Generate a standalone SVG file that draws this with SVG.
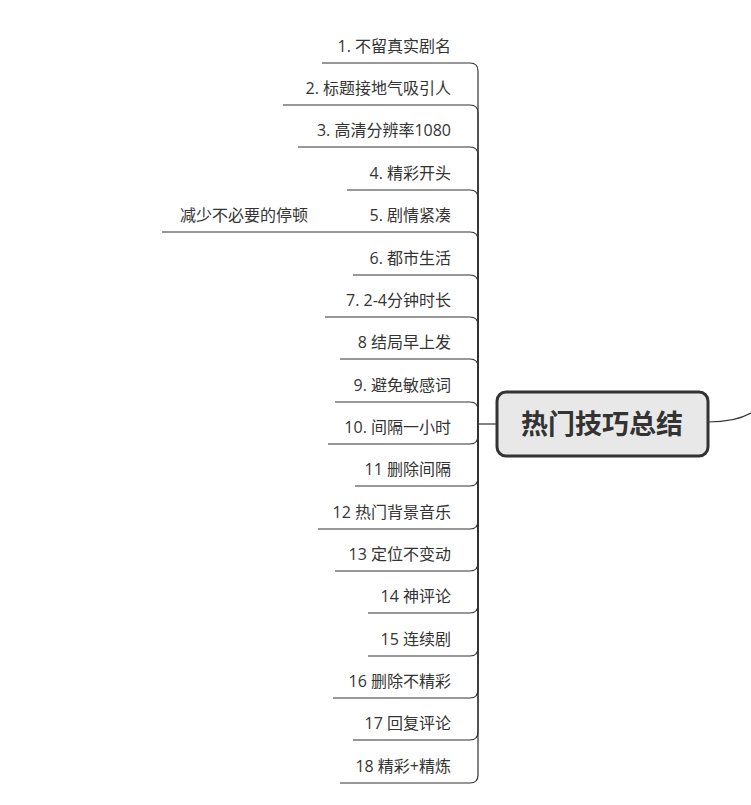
<svg xmlns="http://www.w3.org/2000/svg" width="751" height="805" viewBox="0 0 751 805">
<style>
.t{font-family:"Open Sans","Noto Sans CJK SC",sans-serif;font-size:16px;fill:#333;text-anchor:end}
.c path{fill:none;stroke:#333;stroke-width:1.2}
</style>
<rect width="751" height="805" fill="#fff"/>
<g class="c" id="connectors">
<path d="M478,424V71Q478,63 470,63H322"/>
<path d="M478,424V113Q478,105 470,105H283"/>
<path d="M478,424V155Q478,147 470,147H298"/>
<path d="M478,424V198Q478,190 470,190H347"/>
<path d="M478,424V240Q478,232 470,232H162"/>
<path d="M478,424V283Q478,275 470,275H353"/>
<path d="M478,424V325Q478,317 470,317H325"/>
<path d="M478,424V367Q478,359 470,359H340"/>
<path d="M478,424V410Q478,402 470,402H335"/>
<path d="M478,424V436Q478,444 470,444H328"/>
<path d="M478,424V478Q478,486 470,486H355"/>
<path d="M478,424V521Q478,529 470,529H318"/>
<path d="M478,424V563Q478,571 470,571H335"/>
<path d="M478,424V605Q478,613 470,613H368"/>
<path d="M478,424V648Q478,656 470,656H368"/>
<path d="M478,424V690Q478,698 470,698H333"/>
<path d="M478,424V732Q478,740 470,740H353"/>
<path d="M478,424V775Q478,783 470,783H340"/>
<path d="M478,424H497"/>
<path d="M708,422Q735,422 751,413" stroke-width="2"/>
</g>
<g id="center">
<rect x="497" y="392" width="211" height="64" rx="9" fill="#e8e8e8" stroke="#333" stroke-width="3"/>
<text x="602" y="434" text-anchor="middle" font-family="'Noto Sans CJK SC',sans-serif" font-size="27" font-weight="bold" fill="#333">热门技巧总结</text>
</g>
<g id="n1"><text class="t" x="451" y="52">1. 不留真实剧名</text></g>
<g id="n2"><text class="t" x="451" y="94">2. 标题接地气吸引人</text></g>
<g id="n3"><text class="t" x="451" y="136">3. 高清分辨率1080</text></g>
<g id="n4"><text class="t" x="451" y="179">4.  精彩开头</text></g>
<g id="n5"><text class="t" x="451" y="221">5. 剧情紧凑</text></g>
<g id="n5a"><text class="t" x="308" y="221">减少不必要的停顿</text></g>
<g id="n6"><text class="t" x="451" y="264">6. 都市生活</text></g>
<g id="n7"><text class="t" x="451" y="306">7. 2-4分钟时长</text></g>
<g id="n8"><text class="t" x="451" y="348">8 结局早上发</text></g>
<g id="n9"><text class="t" x="451" y="391">9. 避免敏感词</text></g>
<g id="n10"><text class="t" x="451" y="433">10. 间隔一小时</text></g>
<g id="n11"><text class="t" x="451" y="475">11 删除间隔</text></g>
<g id="n12"><text class="t" x="451" y="518">12 热门背景音乐</text></g>
<g id="n13"><text class="t" x="451" y="560">13 定位不变动</text></g>
<g id="n14"><text class="t" x="451" y="602">14 神评论</text></g>
<g id="n15"><text class="t" x="451" y="645">15 连续剧</text></g>
<g id="n16"><text class="t" x="451" y="687">16 删除不精彩</text></g>
<g id="n17"><text class="t" x="451" y="729">17 回复评论</text></g>
<g id="n18"><text class="t" x="451" y="772">18 精彩+精炼</text></g>
</svg>
